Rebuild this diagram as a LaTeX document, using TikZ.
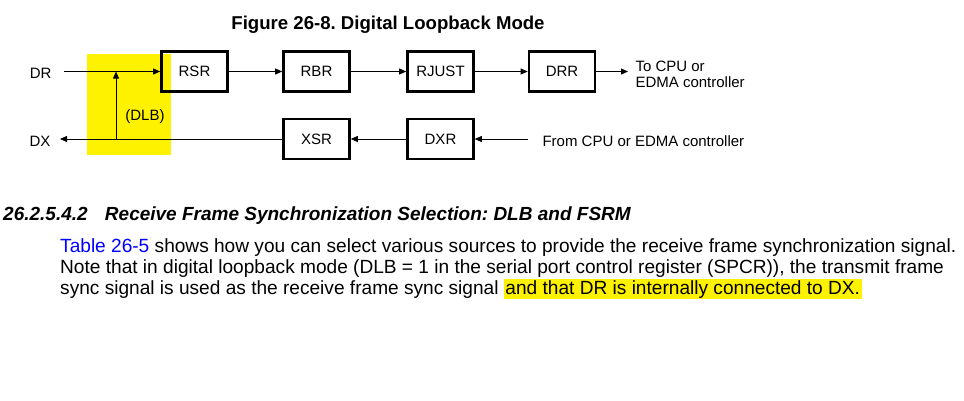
\documentclass[tikz,border=0pt]{standalone}
\usepackage{fontspec}
\setmainfont{Liberation Sans}
\usetikzlibrary{arrows.meta,positioning,calc}
\frenchspacing

\begin{document}
\begin{tikzpicture}[x=1pt,y=-1pt,>={Triangle[length=7pt,width=6pt]},
    reg/.style={draw, line width=2.6pt, minimum width=66pt, minimum height=40pt,
        inner sep=0pt, font=\fontsize{15}{16}\selectfont},
    lbl/.style={font=\fontsize{15}{16}\selectfont},
    sig/.style={->, line width=0.8pt},
    body/.style={anchor=base west, inner sep=0pt, font=\fontsize{19.1}{21}\selectfont}]

    % --- Page ---
    \useasboundingbox[fill=white] (0,0) rectangle (964,400);

    % --- Title ---
    \node[font=\bfseries\fontsize{18.6}{20}\selectfont, anchor=base] (title) at (388,29)
        {Figure 26-8. Digital Loopback Mode};

    % --- Loopback highlight ---
    \fill[yellow] (87,54) rectangle (171,155);

    % --- Registers ---
    \node[reg] (rsr) at (194.5,71.5) {RSR};
    \node[reg] (rbr) at (316.5,71.5) {RBR};
    \node[reg] (rjust) at (440.5,71.5) {RJUST};
    \node[reg] (drr) at (562,71.5) {DRR};
    \node[reg] (xsr) at (316.5,139) {XSR};
    \node[reg] (dxr) at (440.5,139) {DXR};

    % --- Pins and ends ---
    \coordinate (drin) at (64,71.5);
    \coordinate (dxout) at (60,139);
    \coordinate (tap) at (116,139);
    \coordinate (tocpu) at (628,71.5);
    \coordinate (fromcpu) at (528,139);
    \node[lbl, anchor=east] (drlbl) at (55,73) {DR};
    \node[lbl, anchor=east] (dxlbl) at (54,141) {DX};

    % --- Receive path ---
    \draw[sig] (drin) -- (rsr.west);
    \draw[sig] (rsr) -- (rbr);
    \draw[sig] (rbr) -- (rjust);
    \draw[sig] (rjust) -- (drr);
    \draw[sig] (drr) -- (tocpu);
    \node[lbl, anchor=west, align=left] (tocpulbl)
        at (632,74) {To CPU or\\EDMA controller};

    % --- Transmit path ---
    \draw[sig] (fromcpu) -- (dxr);
    \draw[sig] (dxr) -- (xsr);
    \draw[sig] (xsr.west) -- (dxout);
    \node[lbl, anchor=west] (fromcpulbl) at (539,141) {From CPU or EDMA controller};

    % --- Loopback ---
    \draw[sig] (tap) -- (tap |- drin);
    \node[lbl] (dlb) at (145,117) {(DLB)};

    % --- Section text ---
    \node[anchor=base west, inner sep=0pt, font=\bfseries\itshape\fontsize{19}{21}\selectfont] (head)
        at (3,220) {26.2.5.4.2\hspace{12pt} Receive Frame Synchronization Selection: DLB and FSRM};
    \node[body] (line1) at (60,252)
        {\textcolor{blue}{Table 26-5} shows how you can select various sources to provide the receive frame synchronization signal.};
    \node[body] (line2) at (60,273)
        {Note that in digital loopback mode (DLB = 1 in the serial port control register (SPCR)), the transmit frame};
    \node[body] (line3) at (60,294)
        {sync signal is used as the receive frame sync signal \setlength{\fboxsep}{1.5pt}\colorbox{yellow}{and that DR is internally connected to DX.}};

\end{tikzpicture}
\end{document}
